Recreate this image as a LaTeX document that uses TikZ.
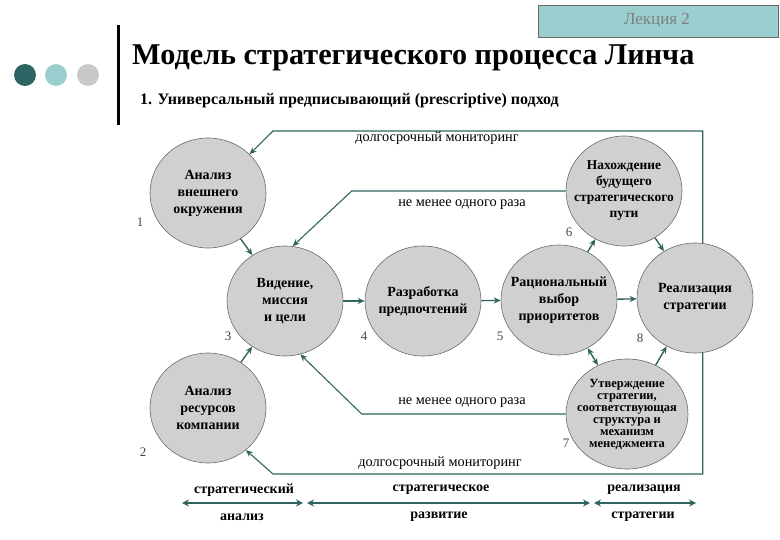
\documentclass[tikz,border=0pt]{standalone}
\usepackage{fontspec}
\setmainfont{Liberation Serif}
\usetikzlibrary{shapes.geometric,arrows.meta}
\definecolor{lineC}{RGB}{50,100,95}
\definecolor{circF}{RGB}{208,208,208}
\definecolor{circD}{RGB}{105,105,105}
\definecolor{tealL}{RGB}{155,206,206}
\definecolor{tealD}{RGB}{45,100,100}
\definecolor{dotG}{RGB}{200,200,200}
\definecolor{numC}{RGB}{70,70,70}
\tikzset{
  proc/.style={ellipse, draw=circD, fill=circF, line width=0.6pt, minimum width=116pt, minimum height=110pt, inner xsep=-22pt, inner ysep=-12pt, align=center, font=\fontsize{14}{17}\selectfont\bfseries},
  conn/.style={draw=lineC, line width=1.4pt, -{Stealth[length=7pt,width=6pt]}},
  loopline/.style={draw=lineC, line width=1.1pt, -{Stealth[length=7pt,width=6pt]}},
  numlab/.style={font=\fontsize{13}{15}\selectfont, text=numC, inner sep=0pt},
  looplab/.style={font=\fontsize{14.3}{16}\selectfont, inner sep=0pt},
  phase/.style={draw=lineC, line width=2.4pt, {Stealth[length=7pt,width=7pt]}-{Stealth[length=7pt,width=7pt]}},
  phaselab/.style={font=\fontsize{14}{16}\selectfont\bfseries, inner sep=0pt},
}
\begin{document}
\begin{tikzpicture}[x=1pt,y=-1pt]
\useasboundingbox (0,0) rectangle (780,540);
% header
\node[draw=circD, fill=tealL, line width=0.6pt, minimum width=240pt, minimum height=32pt, inner sep=0pt] (lect) at (658,21) {};
\node[font=\fontsize{17}{19}\selectfont, text=gray] (lecttxt) at (657,21) {Лекция 2};
\draw[line width=3pt] (118,25) -- (118,125);
\fill[tealD] (25,75) circle (11);
\fill[tealL] (56,75) circle (11);
\fill[dotG] (88,75) circle (11);
\node[anchor=west, font=\fontsize{30.2}{33}\selectfont\bfseries, inner sep=0pt] (title) at (132,58) {Модель стратегического процесса Линча};
\node[anchor=west, font=\fontsize{16}{18}\selectfont\bfseries, inner sep=0pt] (sub) at (140,101) {1. Универсальный предписывающий (prescriptive) подход};
% process nodes
\node[proc] (c1) at (208,193) {Анализ\\внешнего\\окружения};
\node[proc] (c2) at (208,408) {Анализ\\ресурсов\\компании};
\node[proc] (c3) at (285,301) {Видение,\\миссия\\и цели};
\node[proc] (c4) at (423,301) {Разработка\\предпочтений};
\node[proc] (c5) at (559,300) {Рациональный\\выбор\\приоритетов};
\node[proc, font=\fontsize{13.5}{16}\selectfont\bfseries] (c6) at (624,191) {Нахождение\\будущего\\стратегического\\пути};
\node[proc, minimum width=122pt, font=\fontsize{12.5}{12}\selectfont\bfseries] (c7) at (627,414) {Утверждение\\стратегии,\\соответствующая\\структура и\\механизм\\менеджмента};
\node[proc] (c8) at (695,298) {Реализация\\стратегии};
% numbers
\node[numlab] (n1) at (140,222) {1};
\node[numlab] (n2) at (143,452) {2};
\node[numlab] (n3) at (228,336) {3};
\node[numlab] (n4) at (364,336) {4};
\node[numlab] (n5) at (500,336) {5};
\node[numlab] (n6) at (569,232) {6};
\node[numlab] (n7) at (566,443) {7};
\node[numlab] (n8) at (640,338) {8};
% direct connectors
\draw[conn] (c1) -- (c3);
\draw[conn] (c2) -- (c3);
\draw[conn] (c3) -- (c4);
\draw[conn] (c4) -- (c5);
\draw[conn] (c5) -- (c8);
\draw[conn] (c5) -- (c6);
\draw[conn] (c6) -- (c8);
\draw[conn, {Stealth[length=7pt,width=6pt]}-{Stealth[length=7pt,width=6pt]}] (c5) -- (c7);
\draw[conn] (c7) -- (c8);
% loops
\coordinate (ltop) at (273,131);
\coordinate (lbot) at (273,474);
\draw[loopline] (c8.82) |- (ltop) -- (c1.43);
\draw[loopline] (c8.-82) |- (lbot) -- (c2.-48);
\draw[loopline] (c6.west) -- ++(-214,0) coordinate (iup) -- (c3.82);
\draw[loopline] (c7.west) -- ++(-204,0) coordinate (ilo) -- (c3.-74);
\node[looplab] (lt1) at (437,138) {долгосрочный мониторинг};
\node[looplab] (lt2) at (440,463) {долгосрочный мониторинг};
\node[looplab] (lt3) at (462,205) {не менее одного раза};
\node[looplab] (lt4) at (462,403) {не менее одного раза};
% phases
\coordinate (p1a) at (182,503);
\coordinate (p1b) at (303,503);
\coordinate (p2a) at (307,503);
\coordinate (p2b) at (590,503);
\coordinate (p3a) at (594,503);
\coordinate (p3b) at (696,503);
\draw[phase] (p1a) -- (p1b);
\draw[phase] (p2a) -- (p2b);
\draw[phase] (p3a) -- (p3b);
\node[phaselab] (f1a) at (244,490) {стратегический};
\node[phaselab] (f1b) at (242,517) {анализ};
\node[phaselab] (f2a) at (441,490) {стратегическое};
\node[phaselab] (f2b) at (439,517) {развитие};
\node[phaselab] (f3a) at (644,490) {реализация};
\node[phaselab] (f3b) at (643,517) {стратегии};
\end{tikzpicture}
\end{document}
